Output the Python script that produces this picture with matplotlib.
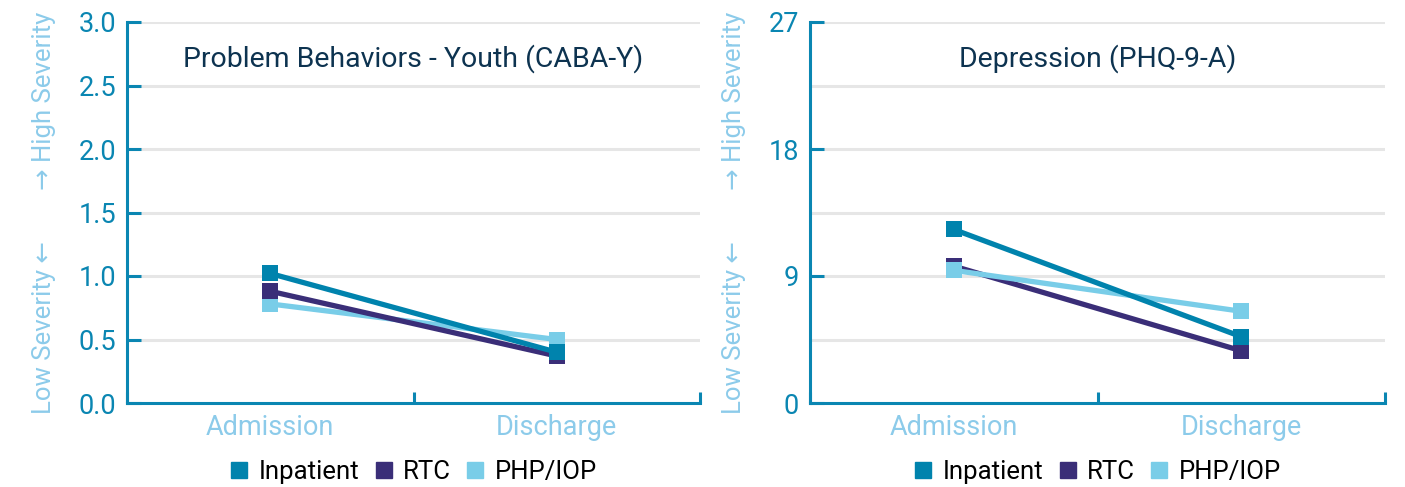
import matplotlib
matplotlib.use("Agg")
import matplotlib.pyplot as plt
from matplotlib.lines import Line2D

# ---- data ----
stages = ["Admission", "Discharge"]
series_names = ["Inpatient", "RTC", "PHP/IOP"]

caba_title = "Problem Behaviors - Youth (CABA-Y)"
caba_inpatient = [1.02, 0.40]
caba_rtc = [0.88, 0.37]
caba_php = [0.78, 0.50]
caba_yticks = [0.0, 0.5, 1.0, 1.5, 2.0, 2.5, 3.0]
caba_yticklabels = ["0.0", "0.5", "1.0", "1.5", "2.0", "2.5", "3.0"]
caba_grid = [0.5, 1.0, 1.5, 2.0, 2.5, 3.0]

phq_title = "Depression (PHQ-9-A)"
phq_inpatient = [12.3, 4.7]
phq_rtc = [9.7, 3.7]
phq_php = [9.4, 6.5]
phq_yticks = [0, 9, 18, 27]
phq_yticklabels = ["0", "9", "18", "27"]
phq_grid = [4.5, 9, 13.5, 18, 22.5, 27]

ylabel_text = "Low Severity \u2190        \u2192 High Severity"

# ---- style ----
colors = {"Inpatient": "#0083AD", "RTC": "#3A2E78", "PHP/IOP": "#79CDE8"}
spine_c = "#0A86B2"
tick_c = "#0A86B2"
light_c = "#8CCBEA"
title_c = "#0D3350"
grid_c = "#E6E6E6"
fam = ["Roboto", "DejaVu Sans"]
plt.rcParams["font.family"] = fam

W, H = 1405, 487
fig = plt.figure(figsize=(W / 100, H / 100), dpi=100)

def make_panel(rect, title, vals, yticks, ylabels, grid, ymax, order):
    ax = fig.add_axes(rect)
    n = len(stages)
    ax.set_xlim(0, n)
    ax.set_ylim(0, ymax)
    for g in grid:
        ax.axhline(g, color=grid_c, lw=2.2, zorder=0)
    xs = [i + 0.5 for i in range(n)]
    for name in order:
        ax.plot(xs, vals[name], color=colors[name], lw=3.8, marker="s",
                markersize=11.5, markeredgewidth=0, zorder=3)
    for s in ["top", "right"]:
        ax.spines[s].set_visible(False)
    for s in ["left", "bottom"]:
        ax.spines[s].set_color(spine_c)
        ax.spines[s].set_linewidth(2.2)
    ax.set_yticks(yticks)
    ax.set_yticklabels(ylabels)
    ax.tick_params(axis="y", direction="in", length=10, width=2.2, color=tick_c,
                   labelcolor=tick_c, labelsize=19.5, pad=8)
    ax.set_xticks(range(n + 1))
    ax.set_xticklabels([])
    ax.tick_params(axis="x", direction="in", length=8, width=2.2, color=tick_c)
    for i, s in enumerate(stages):
        ax.text(i + 0.5, -0.03, s, transform=ax.get_xaxis_transform(),
                ha="center", va="top", color=light_c, fontsize=19.5)
    ax.text(0.5, 0.905, title, transform=ax.transAxes, ha="center", va="center",
            color=title_c, fontsize=20.5)
    ax.set_ylabel(ylabel_text, color=light_c, fontsize=18.5, labelpad=16)
    handles = [Line2D([], [], color=colors[nm], marker="s", ls="none",
                      markersize=12) for nm in series_names]
    ax.legend(handles, series_names, loc="center",
              bbox_to_anchor=(0.5, -0.18), ncol=3, frameon=False,
              fontsize=18.5, handlelength=0.7, handletextpad=0.4,
              columnspacing=0.6, borderpad=0)
    return ax

ax1 = make_panel([127 / W, (H - 403) / H, 573 / W, 381 / H], caba_title,
                 {"Inpatient": caba_inpatient, "RTC": caba_rtc, "PHP/IOP": caba_php},
                 caba_yticks, caba_yticklabels, caba_grid, 3.0,
                 ["PHP/IOP", "RTC", "Inpatient"])
ax2 = make_panel([810 / W, (H - 403) / H, 575 / W, 381 / H], phq_title,
                 {"Inpatient": phq_inpatient, "RTC": phq_rtc, "PHP/IOP": phq_php},
                 phq_yticks, phq_yticklabels, phq_grid, 27,
                 ["RTC", "PHP/IOP", "Inpatient"])

fig.savefig("out.png", dpi=100)
